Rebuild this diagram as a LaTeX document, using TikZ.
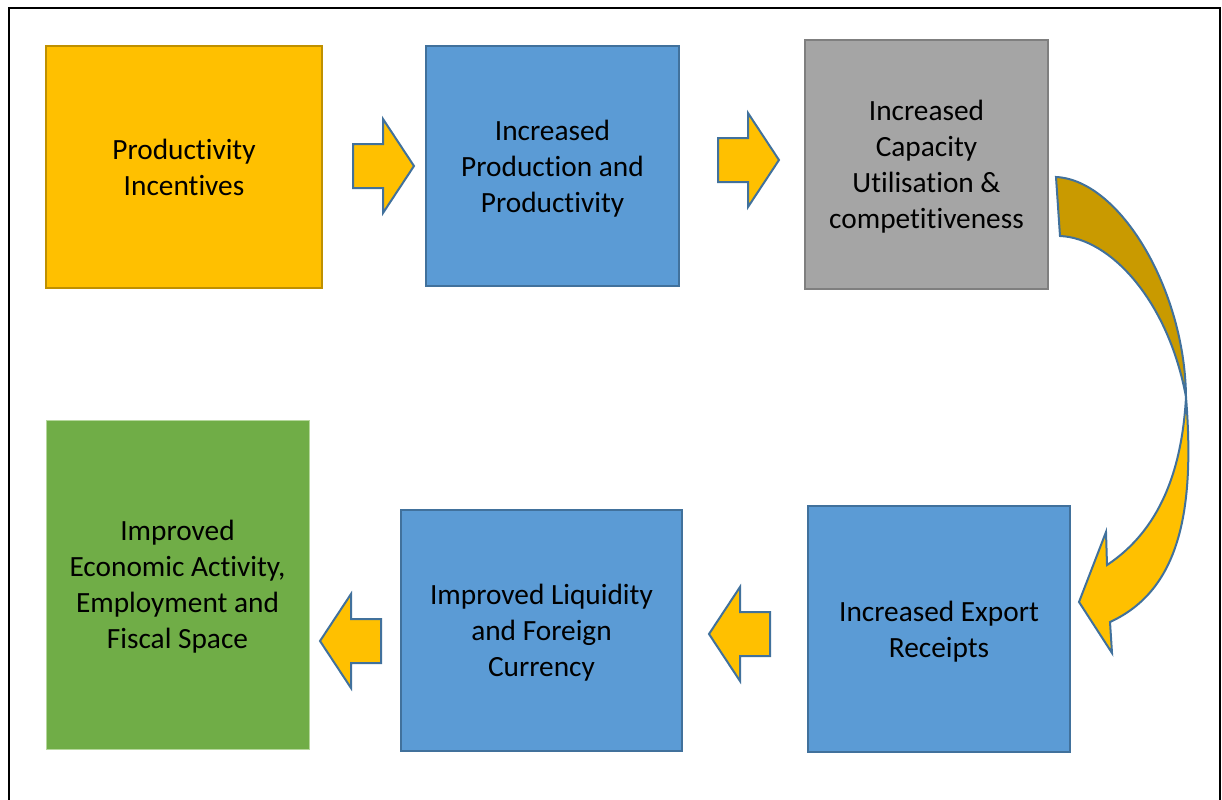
\documentclass[tikz,border=0pt]{standalone}
\usepackage{fontspec}
\setmainfont{Carlito}[Ligatures={NoCommon}]
\usepackage{xcolor}
\usetikzlibrary{calc}

\definecolor{boxgold}{HTML}{FFC000}
\definecolor{goldline}{HTML}{BF9000}
\definecolor{darkgold}{HTML}{C99A00}
\definecolor{boxblue}{HTML}{5B9BD5}
\definecolor{blueline}{HTML}{41719C}
\definecolor{boxgray}{HTML}{A5A5A5}
\definecolor{grayline}{HTML}{7F7F7F}
\definecolor{boxgreen}{HTML}{70AD47}
\definecolor{greenline}{HTML}{B5D79C}

\newdimen\px
\px=0.75pt

% block arrow: #1 centre, #2 = 1 points right, -1 points left
\newcommand{\blockarrow}[2]{%
  \draw[arrow body] (#1) ++({-30*#2},-22) -- ++({30*#2},0) -- ++(0,-25)
    -- ++({31*#2},47) -- ++({-31*#2},47) -- ++(0,-25) -- ++({-30*#2},0) -- cycle;}

\begin{document}
\begin{tikzpicture}[x=0.75pt,y=-0.75pt,
  flow box/.style={rectangle, align=center, inner sep=0pt, text depth=0pt,
    font=\fontsize{22}{27}\selectfont, line width=1.5pt},
  gold box/.style={flow box, fill=boxgold, draw=goldline},
  blue box/.style={flow box, fill=boxblue, draw=blueline},
  gray box/.style={flow box, fill=boxgray, draw=grayline},
  green box/.style={flow box, fill=boxgreen, draw=greenline, line width=0.75pt},
  arrow body/.style={fill=boxgold, draw=blueline, line width=1.5pt, line join=miter},
  bend body/.style={draw=blueline, line width=1.5pt, line join=miter}]
	\useasboundingbox (0,0) rectangle (1222,800);
	% frame
	\draw[line width=1.5pt] (9,800) -- (9,8) -- (1220,8) -- (1220,800);

	% Nodes
	\node[gold box, minimum width=276\px, minimum height=242\px] (incent) at (184,167) {Productivity\\Incentives};
	\node[blue box, minimum width=253\px, minimum height=240\px] (output) at (552.5,166) {Increased\\Production and\\Productivity};
	\node[gray box, minimum width=243\px, minimum height=249\px] (capacity) at (926.5,164.5) {Increased\\Capacity\\Utilisation \&\\competitiveness};
	\node[blue box, minimum width=262\px, minimum height=246\px] (export) at (939,629) {Increased Export\\Receipts};
	\node[blue box, minimum width=281\px, minimum height=241\px] (liquid) at (541.5,630.5) {Improved Liquidity\\and Foreign\\Currency};
	\node[green box, minimum width=263\px, minimum height=329\px] (economy) at (177.5,584.5) {Improved\\Economic Activity,\\Employment and\\Fiscal Space};

	% block arrows between the boxes
	\coordinate (a1) at (383,166);
	\coordinate (a2) at (748,160);
	\coordinate (a3) at (740,634);
	\coordinate (a4) at (351,641);
	\blockarrow{a1}{1}
	\blockarrow{a2}{1}
	\blockarrow{a3}{-1}
	\blockarrow{a4}{-1}

	% curved arrow from capacity down to export
	\coordinate (bendtop) at (1056,177);
	\coordinate (bendin) at (1060,236);
	\coordinate (bendx) at (1186,397);
	\fill[darkgold] (bendtop) .. controls (1120,180) and (1185,290) .. (bendx)
	  .. controls (1168,300) and (1110,238) .. (bendin) -- cycle;
	\fill[boxgold] (bendx) .. controls (1195,510) and (1180,590) .. (1110,622)
	  -- (1112,653) -- (1079,602) -- (1106,532) -- (1107,565)
	  .. controls (1160,530) and (1182,470) .. (bendx) -- cycle;
	\draw[bend body] (bendtop) .. controls (1120,180) and (1185,290) .. (bendx)
	  .. controls (1195,510) and (1180,590) .. (1110,622)
	  -- (1112,653) -- (1079,602) -- (1106,532) -- (1107,565)
	  .. controls (1160,530) and (1182,470) .. (bendx)
	  .. controls (1168,300) and (1110,238) .. (bendin) -- cycle;
\end{tikzpicture}
\end{document}
